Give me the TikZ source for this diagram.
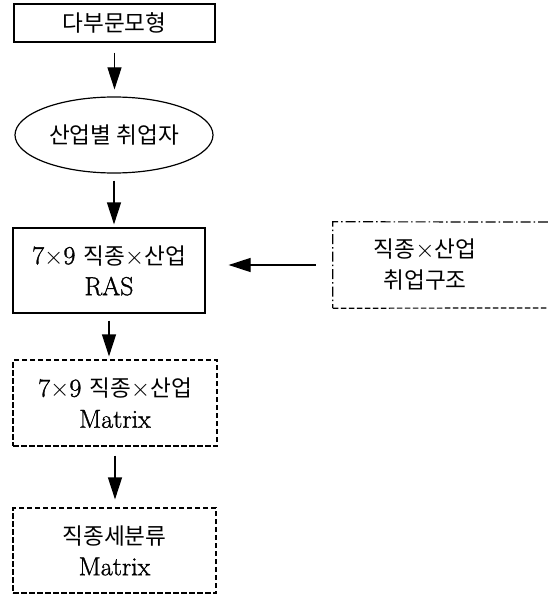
\documentclass[tikz,border=0pt]{standalone}
\usepackage{fontspec}
\setmainfont{Latin Modern Roman}[FakeBold=1.2]
\newfontfamily\kr{Noto Sans CJK KR}[Scale=0.87]
\usetikzlibrary{arrows.meta,shapes.geometric}
\begin{document}
\begin{tikzpicture}[x=1pt,y=-1pt,
  txt/.style={inner sep=0pt, align=center, font=\fontsize{26}{31}\selectfont},
  box/.style={txt, rectangle, draw, line width=1.2pt},
  dbox/.style={box, dash pattern=on 5.5pt off 2.5pt},
  arr/.style={-{Triangle[length=22pt,width=14pt]}, line width=1.2pt},
]
\useasboundingbox (0,0) rectangle (547,596);
\node[box, minimum width=201pt, minimum height=38pt] (a) at (114.5,23) {\kr 다부문모형};
\node[txt, ellipse, draw, line width=1.2pt, minimum width=198pt, minimum height=76pt] (b) at (114,135) {\kr 산업별 취업자};
\node[box, minimum width=192pt, minimum height=85pt] (c) at (109,270.5) {7$\times$9 {\kr 직종}$\times${\kr 산업}\\RAS};
\node[txt, minimum width=184pt, minimum height=86pt] (r) at (425,265) {{\kr 직종}$\times${\kr 산업}\\{\kr 취업구조}};
\coordinate (rtr) at (548,222);
\coordinate (rbr) at (548,308);
\draw[line width=1.2pt, dash pattern=on 10pt off 3pt on 1.5pt off 3pt] (rtr) -- (r.north west) -- (r.south west);
\draw[line width=1.2pt, dash pattern=on 5.5pt off 2.5pt] (r.south west) -- (rbr);
\node[dbox, minimum width=204pt, minimum height=86pt] (d) at (115,403) {7$\times$9 {\kr 직종}$\times${\kr 산업}\\Matrix};
\node[dbox, minimum width=203pt, minimum height=85pt] (e) at (114.5,550.5) {{\kr 직종세분류}\\Matrix};
\draw[arr] ([yshift=-10pt]a.south) -- ([yshift=7pt]a.south |- b.north);
\draw[arr] ([yshift=-7pt]b.south) -- ([yshift=3pt]b.south |- c.north);
\draw[arr] ([yshift=-7pt]c.south) -- ([yshift=3pt]c.south |- d.north);
\draw[arr] ([yshift=-9pt]d.south) -- ([yshift=8pt]d.south |- e.north);
\draw[arr] ([xshift=-17pt]r.west) -- ([xshift=23pt]c.east |- r.west);
\end{tikzpicture}
\end{document}
